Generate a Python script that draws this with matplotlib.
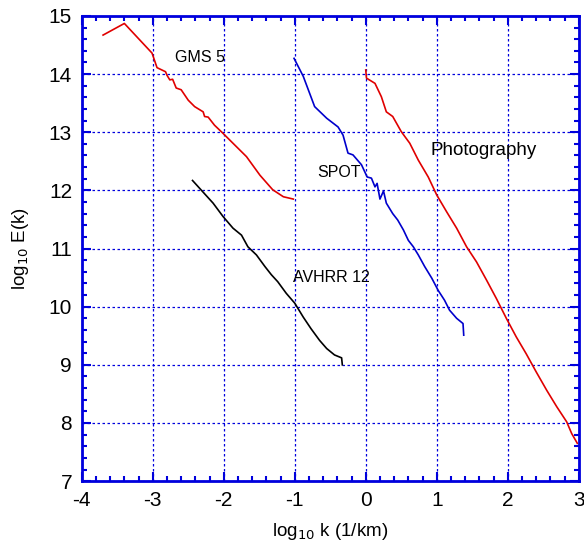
import matplotlib
matplotlib.use('Agg')
import matplotlib.pyplot as plt
from matplotlib.ticker import MultipleLocator

plt.rcParams['font.family'] = ['Liberation Sans', 'DejaVu Sans']
plt.rcParams['axes.unicode_minus'] = False

# GMS 5 (red)
gms_x = [-3.70, -3.40, -3.01, -2.94, -2.82, -2.80, -2.76, -2.72, -2.67, -2.60, -2.55, -2.50,
         -2.41, -2.29, -2.27, -2.22, -2.13, -2.01, -1.87, -1.68, -1.49, -1.31, -1.16, -1.02]
gms_y = [14.67, 14.87, 14.36, 14.11, 14.04, 13.98, 13.90, 13.91, 13.76, 13.73, 13.64, 13.55,
         13.44, 13.35, 13.27, 13.26, 13.12, 12.98, 12.81, 12.58, 12.26, 12.01, 11.89, 11.85]

# AVHRR 12 (black)
avhrr_x = [-2.44, -2.15, -2.01, -1.87, -1.75, -1.66, -1.54, -1.42, -1.33, -1.24, -1.12,
           -1.00, -0.88, -0.77, -0.65, -0.55, -0.44, -0.34, -0.33]
avhrr_y = [12.17, 11.78, 11.55, 11.35, 11.23, 11.03, 10.89, 10.69, 10.55, 10.43, 10.23,
           10.06, 9.82, 9.62, 9.42, 9.28, 9.17, 9.12, 9.00]

# SPOT (blue)
spot_x = [-1.01, -0.88, -0.72, -0.55, -0.39, -0.32, -0.25, -0.18, -0.06, 0.02, 0.08, 0.13,
          0.16, 0.20, 0.25, 0.29, 0.38, 0.45, 0.53, 0.60, 0.67, 0.74, 0.83, 0.93, 1.02,
          1.11, 1.18, 1.28, 1.37, 1.38]
spot_y = [14.27, 13.96, 13.44, 13.24, 13.09, 12.95, 12.64, 12.61, 12.44, 12.23, 12.21, 12.06,
          12.12, 11.85, 11.99, 11.78, 11.60, 11.49, 11.32, 11.14, 11.03, 10.89, 10.69, 10.49,
          10.28, 10.11, 9.94, 9.80, 9.71, 9.51]

# Photography (red)
photo_x = [0.00, 0.01, 0.13, 0.22, 0.29, 0.38, 0.50, 0.62, 0.74, 0.88, 1.00, 1.14, 1.28,
           1.42, 1.56, 1.70, 1.84, 1.98, 2.12, 2.26, 2.40, 2.55, 2.69, 2.83, 2.90, 2.98]
photo_y = [14.07, 13.93, 13.84, 13.61, 13.35, 13.27, 13.01, 12.81, 12.52, 12.23, 11.92,
           11.63, 11.35, 11.03, 10.77, 10.46, 10.14, 9.80, 9.48, 9.19, 8.88, 8.56, 8.28,
           8.02, 7.82, 7.65]

fig = plt.figure(figsize=(5.84, 5.48), dpi=100)
ax = fig.add_axes([0.140, 0.122, 0.851, 0.849])

ax.plot(gms_x, gms_y, color='#e00000', lw=1.2)
ax.plot(avhrr_x, avhrr_y, color='black', lw=1.2)
ax.plot(spot_x, spot_y, color='#0000cc', lw=1.2)
ax.plot(photo_x, photo_y, color='#e00000', lw=1.2)

ax.text(-2.34, 14.29, 'GMS 5', fontsize=11.5, ha='center', va='center')
ax.text(-0.38, 12.30, 'SPOT', fontsize=11.5, ha='center', va='center')
ax.text(-0.49, 10.51, 'AVHRR 12', fontsize=11.5, ha='center', va='center')
ax.text(1.66, 12.69, 'Photography', fontsize=13.5, ha='center', va='center')

ax.set_xlim(-4, 3)
ax.set_ylim(7, 15)
ax.xaxis.set_major_locator(MultipleLocator(1))
ax.xaxis.set_minor_locator(MultipleLocator(0.2))
ax.yaxis.set_major_locator(MultipleLocator(1))
ax.yaxis.set_minor_locator(MultipleLocator(0.2))
ax.grid(True, which='major', color='#0000dd', linestyle=(0, (2, 2)), linewidth=0.9)

for s in ax.spines.values():
    s.set_color('#0000dd')
    s.set_linewidth(2)
ax.tick_params(which='both', direction='in', top=True, right=True, color='#0000dd',
               labelsize=15, width=1.5)
ax.tick_params(which='major', length=6.5, pad=7)
ax.tick_params(which='minor', length=3.5)

ax.set_xlabel('log$_{10}$ k (1/km)', fontsize=13.5, labelpad=8)
ax.set_ylabel('log$_{10}$ E(k)', fontsize=13.5, labelpad=13)

plt.savefig('out.png', dpi=100)
plt.close()
